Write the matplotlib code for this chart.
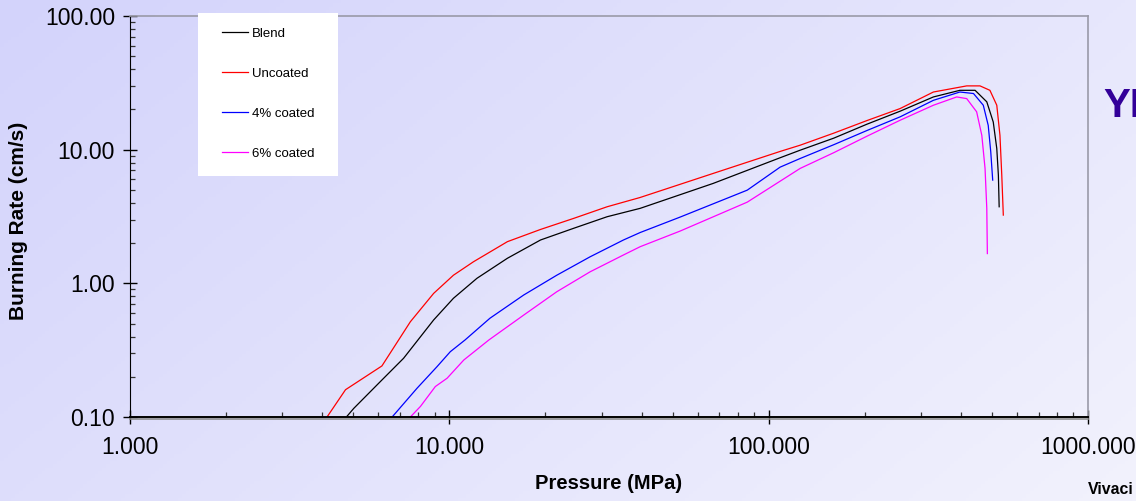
import numpy as np
import matplotlib
matplotlib.use("Agg")
import matplotlib.pyplot as plt
import matplotlib.patches as patches
import matplotlib.patheffects as pe
from matplotlib.ticker import LogLocator, FormatStrFormatter, NullFormatter

# burning rate vs pressure, strand burner results
blend_p = [4.76, 5.02, 6.08, 7.19, 8.93, 10.3, 12.2, 15.2, 19.3, 24.5, 31.2, 39.6, 67.0,
           108.6, 125.5, 160, 203, 258, 328, 397, 443, 482, 505, 518, 524, 527]
blend_r = [0.100, 0.116, 0.184, 0.275, 0.532, 0.773, 1.09, 1.54, 2.11, 2.58, 3.15, 3.64, 5.59,
           8.7, 9.91, 12.2, 15.5, 19.4, 24.8, 27.8, 27.8, 22.8, 16.1, 10.2, 6.45, 3.74]

uncoated_p = [4.14, 4.73, 6.15, 7.55, 8.93, 10.3, 11.9, 15.2, 19.3, 24.5, 31.2, 39.6, 67.0,
              108.6, 125.5, 160, 203, 258, 328, 417, 459, 493, 518, 530, 537, 543]
uncoated_r = [0.100, 0.160, 0.241, 0.516, 0.841, 1.15, 1.45, 2.05, 2.53, 3.06, 3.74, 4.39, 6.64,
              9.7, 10.8, 13.3, 16.5, 20.3, 27.0, 30.0, 30.0, 27.8, 21.5, 12.8, 6.45, 3.24]

coat4_p = [6.62, 7.92, 9.15, 10.07, 11.2, 13.4, 17.1, 21.7, 27.6, 35.1, 39.6, 52.8, 85.7,
           108.6, 125.5, 160, 203, 258, 328, 397, 438, 470, 487, 496, 503]
coat4_r = [0.100, 0.164, 0.238, 0.308, 0.377, 0.548, 0.818, 1.15, 1.58, 2.11, 2.40, 3.13, 4.98,
           7.4, 8.59, 10.9, 13.9, 17.6, 23.4, 27.0, 26.3, 21.5, 15.2, 9.63, 5.92]

coat6_p = [7.55, 8.12, 9.04, 9.84, 11.1, 13.3, 17.1, 21.7, 27.6, 35.1, 39.6, 52.8, 85.7,
           125.5, 160, 203, 258, 328, 388, 417, 448, 465, 476, 482, 484]
coat6_r = [0.100, 0.120, 0.169, 0.195, 0.267, 0.377, 0.579, 0.865, 1.22, 1.63, 1.88, 2.46, 4.05,
           7.24, 9.5, 12.6, 16.6, 21.5, 24.8, 24.1, 19.2, 12.8, 7.24, 3.64, 1.67]

series = [("Blend", blend_p, blend_r, "black"),
          ("Uncoated", uncoated_p, uncoated_r, "#ff0000"),
          ("4% coated", coat4_p, coat4_r, "#0000ff"),
          ("6% coated", coat6_p, coat6_r, "#ff00ff")]

plt.rcParams['font.family'] = ['Liberation Sans', 'DejaVu Sans']

fig = plt.figure(figsize=(11.36, 5.01), dpi=100)

# lavender slide background
bg = fig.add_axes([0, 0, 1, 1], zorder=-10)
u, v = np.meshgrid(np.linspace(0, 1, 300), np.linspace(0, 1, 150))
t = 0.65 * u + 0.35 * v
c0 = np.array([211, 211, 251]) / 255
c1 = np.array([242, 242, 253]) / 255
img = c0[None, None, :] * (1 - t[..., None]) + c1[None, None, :] * t[..., None]
bg.imshow(img, aspect='auto', extent=[0, 1, 0, 1], origin='upper')
bg.axis('off')

ax = fig.add_axes([130 / 1136, 1 - 417 / 501, 958 / 1136, 401 / 501])
ax.set_facecolor('none')

for name, p, r, col in series:
    ax.plot(p, r, color=col, lw=0.9, label=name)

ax.set_xscale('log')
ax.set_yscale('log')
ax.set_xlim(1, 1000)
ax.set_ylim(0.1, 100)

ax.xaxis.set_major_locator(LogLocator(base=10))
ax.xaxis.set_minor_locator(LogLocator(base=10, subs=np.arange(2, 10)))
ax.yaxis.set_major_locator(LogLocator(base=10))
ax.yaxis.set_minor_locator(LogLocator(base=10, subs=np.arange(2, 10)))
ax.xaxis.set_major_formatter(FormatStrFormatter('%.3f'))
ax.yaxis.set_major_formatter(FormatStrFormatter('%.2f'))
ax.xaxis.set_minor_formatter(NullFormatter())
ax.yaxis.set_minor_formatter(NullFormatter())

ax.tick_params(which='major', direction='inout', length=9.5, width=1.0, labelsize=16.5)
ax.tick_params(axis='x', which='major', pad=9)
ax.tick_params(axis='y', which='major', pad=6)
ax.tick_params(which='minor', direction='in', length=3.6, width=0.9, color='#333333')

for s in ['top', 'right']:
    ax.spines[s].set_color('#9a9aa8')
    ax.spines[s].set_linewidth(1.2)
ax.spines['left'].set_color('black')
ax.spines['bottom'].set_color('black')
ax.spines['bottom'].set_linewidth(1.4)
ax.spines['bottom'].set_path_effects([pe.SimpleLineShadow(offset=(0, -1.5), shadow_color='#888888', alpha=0.8),
                                      pe.Normal()])

ax.set_xlabel('Pressure (MPa)', fontsize=14.5, fontweight='bold')
ax.set_ylabel('Burning Rate (cm/s)', fontsize=15, fontweight='bold')
ax.xaxis.set_label_coords(0.5, -0.142)
ax.yaxis.set_label_coords(-0.1065, 0.49)

# white legend panel
ax.add_patch(patches.Rectangle((198 / 1136, 1 - 175.7 / 501), 140 / 1136, 163 / 501,
                               transform=fig.transFigure, facecolor='white',
                               edgecolor='none', zorder=4, clip_on=False))
leg = ax.legend(loc='upper left', bbox_to_anchor=(222 / 1136, 1 - 27.5 / 501),
                bbox_transform=fig.transFigure, frameon=False, fontsize=9.5,
                handlelength=2.0, handletextpad=0.25, labelspacing=2.1,
                borderpad=0, borderaxespad=0)
leg.set_zorder(5)

fig.text(1103 / 1136, 1 - 117 / 501, 'YI', fontsize=29, fontweight='bold', color='#330099')
fig.text(1088 / 1136, 1 - 494 / 501, 'Vivaci', fontsize=11.4, fontweight='bold', color='black')

fig.savefig('out.png', dpi=100)
